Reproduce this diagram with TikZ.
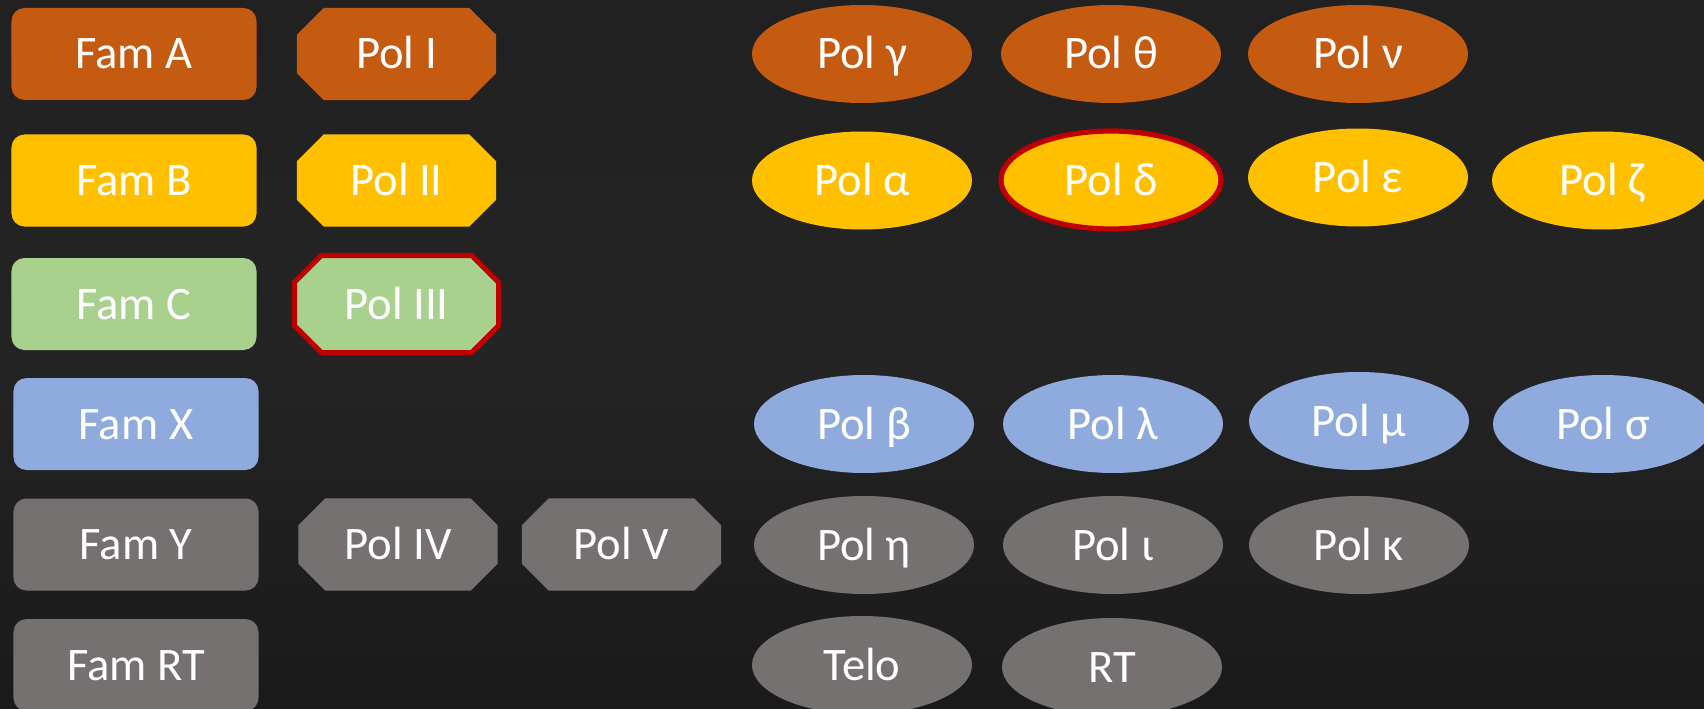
\documentclass[tikz,border=0pt]{standalone}
\usepackage{fontspec}
\setmainfont{Carlito}
\usetikzlibrary{shapes.geometric}

% octagonal box: a rectangle with its four corners cut off
\makeatletter
\newdimen\oct@c
\pgfkeys{/pgf/octo cut/.initial=27bp}
\pgfdeclareshape{octobox}{
  \inheritsavedanchors[from=rectangle]
  \inheritanchorborder[from=rectangle]
  \inheritanchor[from=rectangle]{center}
  \inheritanchor[from=rectangle]{north}
  \inheritanchor[from=rectangle]{south}
  \inheritanchor[from=rectangle]{east}
  \inheritanchor[from=rectangle]{west}
  \inheritanchor[from=rectangle]{north east}
  \inheritanchor[from=rectangle]{north west}
  \inheritanchor[from=rectangle]{south east}
  \inheritanchor[from=rectangle]{south west}
  \inheritanchor[from=rectangle]{base}
  \inheritanchor[from=rectangle]{mid}
  \backgroundpath{%
    \pgfmathsetlength\oct@c{\pgfkeysvalueof{/pgf/octo cut}}%
    \southwest \edef\oct@xa{\the\pgf@x}\edef\oct@ya{\the\pgf@y}%
    \northeast \edef\oct@xb{\the\pgf@x}\edef\oct@yb{\the\pgf@y}%
    \pgfpathmoveto{\pgfpoint{\oct@xa+\oct@c}{\oct@ya}}%
    \pgfpathlineto{\pgfpoint{\oct@xb-\oct@c}{\oct@ya}}%
    \pgfpathlineto{\pgfpoint{\oct@xb}{\oct@ya+\oct@c}}%
    \pgfpathlineto{\pgfpoint{\oct@xb}{\oct@yb-\oct@c}}%
    \pgfpathlineto{\pgfpoint{\oct@xb-\oct@c}{\oct@yb}}%
    \pgfpathlineto{\pgfpoint{\oct@xa+\oct@c}{\oct@yb}}%
    \pgfpathlineto{\pgfpoint{\oct@xa}{\oct@yb-\oct@c}}%
    \pgfpathlineto{\pgfpoint{\oct@xa}{\oct@ya+\oct@c}}%
    \pgfpathclose
  }
}
\makeatother

\definecolor{bgtop}{HTML}{212121}
\definecolor{bgmid}{HTML}{242424}
\definecolor{bgbot}{HTML}{1A1A1A}
\definecolor{cOrange}{HTML}{C55A11}
\definecolor{cYellow}{HTML}{FFC000}
\definecolor{cGreen}{HTML}{A9D18E}
\definecolor{cBlue}{HTML}{8FAADC}
\definecolor{cGray}{HTML}{767171}
\definecolor{cRed}{HTML}{C00000}

\tikzset{
  lbl/.style={text=white, inner sep=0pt, text height=30bp, text depth=0pt,
    font=\fontsize{46.6bp}{56bp}\selectfont},
  fam/.style={lbl, rectangle, rounded corners=13bp,
    minimum width=245bp, minimum height=92bp},
  pol/.style={lbl, shape=octobox, minimum width=199bp, minimum height=92bp},
  ell/.style={lbl, ellipse, minimum width=220bp, minimum height=98bp},
  hilite/.style={draw=cRed, line width=5.2bp},
}

\begin{document}
\begin{tikzpicture}[x=1bp, y=-1bp]
  % canvas
  \useasboundingbox (0,0) rectangle (1704,709);
  \shade[top color=bgtop, bottom color=bgbot, middle color=bgmid]
    (0,0) rectangle (1704,709);

  % family column
  \node[fam, fill=cOrange] (famA)  at (134,54)    {Fam A};
  \node[fam, fill=cYellow] (famB)  at (134,180.5) {Fam B};
  \node[fam, fill=cGreen]  (famC)  at (134,304)   {Fam C};
  \node[fam, fill=cBlue]   (famX)  at (136,424)   {Fam X};
  \node[fam, fill=cGray]   (famY)  at (136,544.5) {Fam Y};
  \node[fam, fill=cGray]   (famRT) at (136,665)   {Fam RT};

  % roman-numbered polymerases
  \node[pol, fill=cOrange]         (polI)   at (396.5,54)    {Pol I};
  \node[pol, fill=cYellow]         (polII)  at (396.5,180.5) {Pol II};
  \node[pol, fill=cGreen, hilite]  (polIII) at (396.5,304)   {Pol III};
  \node[pol, fill=cGray]           (polIV)  at (398,544.5)   {Pol IV};
  \node[pol, fill=cGray]           (polV)   at (621.5,544.5) {Pol V};

  % greek-lettered polymerases
  \node[ell, fill=cOrange] (gamma) at (862,54)  {Pol γ};
  \node[ell, fill=cOrange] (theta) at (1111,54) {Pol θ};
  \node[ell, fill=cOrange] (nu)    at (1358,54) {Pol ν};

  \node[ell, fill=cYellow]         (alpha)   at (862,180.5)  {Pol α};
  \node[ell, fill=cYellow, hilite] (delta)   at (1111,180)   {Pol δ};
  \node[ell, fill=cYellow]         (epsilon) at (1358,177.5) {Pol ε};
  \node[ell, fill=cYellow]         (zeta)    at (1602,180.5) {Pol ζ};

  \node[ell, fill=cBlue] (beta)   at (864,424)  {Pol β};
  \node[ell, fill=cBlue] (lambda) at (1113,424) {Pol λ};
  \node[ell, fill=cBlue] (mu)     at (1359,421) {Pol μ};
  \node[ell, fill=cBlue] (sigma)  at (1603,424) {Pol σ};

  \node[ell, fill=cGray] (eta)   at (864,545)  {Pol η};
  \node[ell, fill=cGray] (iota)  at (1113,545) {Pol ι};
  \node[ell, fill=cGray] (kappa) at (1359,545) {Pol κ};

  \node[ell, fill=cGray] (telo) at (862,665)  {Telo};
  \node[ell, fill=cGray] (rt)   at (1112,667) {RT};
\end{tikzpicture}
\end{document}
